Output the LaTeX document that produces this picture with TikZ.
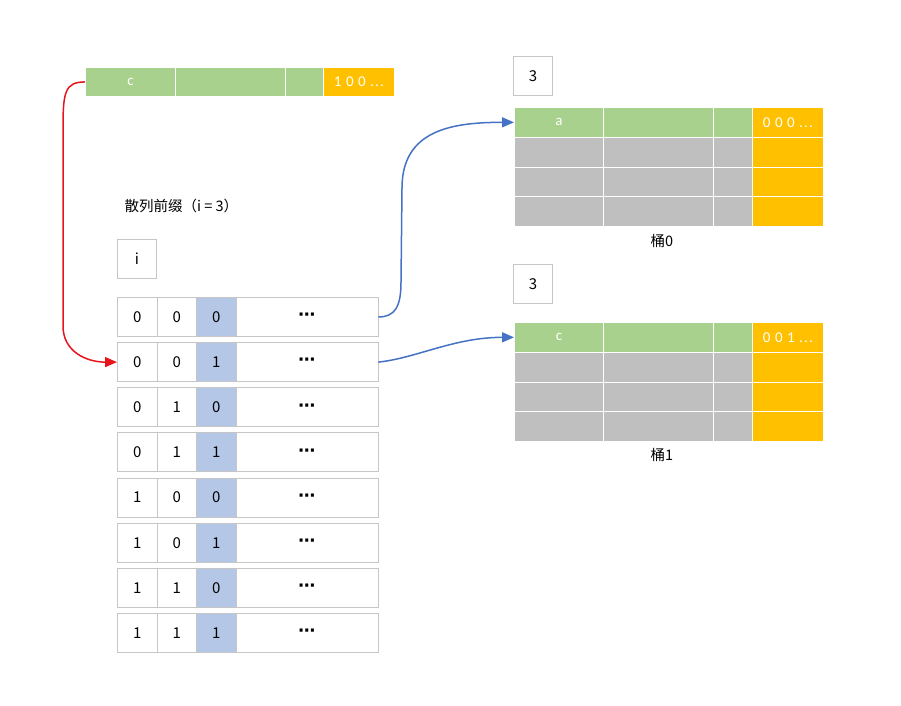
\documentclass[tikz,border=0pt]{standalone}
\usepackage{fontspec}
\setmainfont{Carlito}
\newfontfamily\cjk{Noto Sans CJK SC}
\newfontfamily\symfnt{DejaVu Sans}
\usetikzlibrary{arrows.meta}

\definecolor{tgreen}{HTML}{A9D18E}
\definecolor{torange}{HTML}{FFC000}
\definecolor{tgray}{HTML}{BFBFBF}
\definecolor{tblue}{HTML}{B4C7E7}
\definecolor{tline}{HTML}{C6C6C6}
\definecolor{tarrow}{HTML}{4472C4}
\definecolor{tred}{HTML}{E8141C}

\newcommand{\gap}{\hspace{4.5pt}}
\newcommand{\tdots}{.\hspace{1.2pt}.\hspace{1.2pt}.}

\begin{document}
\begin{tikzpicture}[x=1pt, y=-1pt,
    cell/.style={draw=white, line width=0.9pt, anchor=north west,
                 inner sep=0pt, minimum height=29.75pt, text=white,
                 font=\fontsize{15}{17}\selectfont},
    gcell/.style={cell, fill=tgreen},
    ocell/.style={cell, fill=torange},
    dcell/.style={cell, fill=tgray},
    bit/.style={draw=tline, line width=0.9pt, anchor=north west,
                inner sep=0pt, minimum height=39pt, minimum width=39.5pt,
                font=\cjk\fontsize{15}{17}\selectfont},
    sq/.style={bit, minimum width=39pt},
    lbl/.style={font=\cjk\fontsize{14.5}{17}\selectfont},
    blue arr/.style={-{Triangle[length=12pt,width=10pt]}, tarrow, line width=1.5pt},
    red arr/.style={-{Triangle[length=12pt,width=10pt]}, tred, line width=1.5pt},
]
\useasboundingbox (0,0) rectangle (901,705);

% Record being inserted
\node[gcell, minimum height=29pt, minimum width=90pt]  (tc1) at (85,67)  {c};
\node[gcell, minimum height=29pt, minimum width=110pt] (tc2) at (175,67) {};
\node[gcell, minimum height=29pt, minimum width=38pt]  (tc3) at (285,67) {};
\node[ocell, minimum height=29pt, minimum width=71pt]  (tc4) at (323,67) {1\gap0\gap0\gap\tdots};

% Hash prefix table
\node[lbl, anchor=west] (title) at (121,206) {散列前缀（i = 3）};
\node[sq] (ibox) at (117,239) {i};

\foreach \a/\b/\c [count=\n] in {0/0/0, 0/0/1, 0/1/0, 0/1/1,
                                 1/0/0, 1/0/1, 1/1/0, 1/1/1} {
    \pgfmathsetmacro\ytop{297+45.15*(\n-1)}
    \node[bit] (r\n-a) at (117,\ytop) {\a};
    \node[bit] (r\n-b) at (156.5,\ytop) {\b};
    \node[bit, fill=tblue] (r\n-c) at (196,\ytop) {\c};
    \node[bit, minimum width=142pt] (r\n-d) at (235.5,\ytop)
        {\symfnt\bfseries\fontsize{17}{19}\selectfont ⋯};
}

% Bucket 0
\node[sq] (d0) at (513,56) {3};
\node[gcell, minimum width=89pt]  (b0-a) at (514,107) {a};
\node[gcell, minimum width=110pt] (b0-b) at (603,107) {};
\node[gcell, minimum width=39pt]  (b0-c) at (713,107) {};
\node[ocell, minimum width=71pt]  (b0-d) at (752,107) {0\gap0\gap0\gap\tdots};
\foreach \k in {1,2,3} {
    \pgfmathsetmacro\ytop{107+29.75*\k}
    \node[dcell, minimum width=89pt]  at (514,\ytop) {};
    \node[dcell, minimum width=110pt] at (603,\ytop) {};
    \node[dcell, minimum width=39pt]  at (713,\ytop) {};
    \node[ocell, minimum width=71pt]  at (752,\ytop) {};
}
\node[lbl] (n0) at (662,241) {桶0};

% Bucket 1
\node[sq] (d1) at (513,264) {3};
\node[gcell, minimum width=89pt]  (b1-a) at (514,322) {c};
\node[gcell, minimum width=110pt] (b1-b) at (603,322) {};
\node[gcell, minimum width=39pt]  (b1-c) at (713,322) {};
\node[ocell, minimum width=71pt]  (b1-d) at (752,322) {0\gap0\gap1\gap\tdots};
\foreach \k in {1,2,3} {
    \pgfmathsetmacro\ytop{322+29.75*\k}
    \node[dcell, minimum width=89pt]  at (514,\ytop) {};
    \node[dcell, minimum width=110pt] at (603,\ytop) {};
    \node[dcell, minimum width=39pt]  at (713,\ytop) {};
    \node[ocell, minimum width=71pt]  at (752,\ytop) {};
}
\node[lbl] (n1) at (662,455) {桶1};

% Record -> directory entry 001
\coordinate (redtop) at (63,128);
\coordinate (redbot) at (63,326);
\draw[red arr] (tc1.west) .. controls +(-20,0) and +(0,-36) .. (redtop)
    -- (redbot) .. controls +(0,26) and +(-30,0) .. (r2-a.west);

% Directory entries -> buckets
\coordinate (up0) at (401,282);
\coordinate (up1) at (402,188);
\draw[blue arr] (r1-d.east) .. controls +(17,0) and +(0,24) .. (up0)
    -- (up1) .. controls +(0,-58) and +(-62,0) .. (b0-a.west);
\draw[blue arr] (r2-d.east) .. controls +(38,-4) and +(-60,0) .. (b1-a.west);

\end{tikzpicture}
\end{document}
